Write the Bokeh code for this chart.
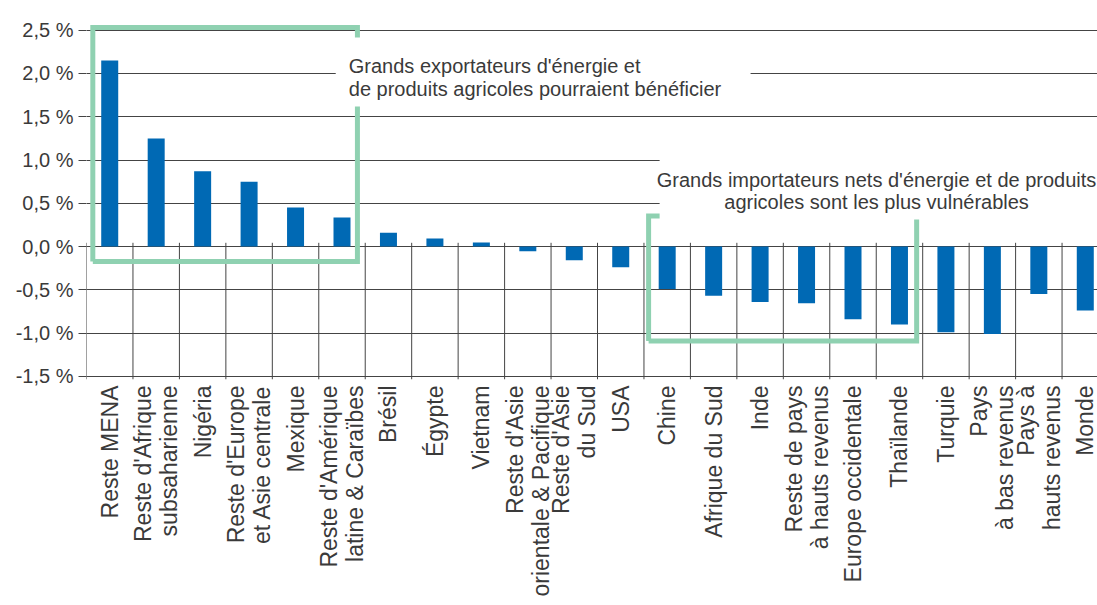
from bokeh.plotting import figure
from bokeh.models import FixedTicker, Range1d
from bokeh.core.properties import value
from bokeh.embed import file_html
from bokeh.resources import INLINE

categories = [
    "Reste MENA", "Reste d'Afrique\nsubsaharienne", "Nigéria",
    "Reste d'Europe\net Asie centrale", "Mexique",
    "Reste d'Amérique\nlatine & Caraïbes", "Brésil", "Égypte", "Vietnam",
    "Reste d'Asie\norientale & Pacifique", "Reste d'Asie\ndu Sud", "USA",
    "Chine", "Afrique du Sud", "Inde", "Reste de pays\nà hauts revenus",
    "Europe occidentale", "Thaïlande", "Turquie", "Pays\nà bas revenus",
    "Pays à\nhauts revenus", "Monde",
]
values = [2.15, 1.25, 0.87, 0.75, 0.45, 0.335, 0.16, 0.092, 0.046, -0.054,
          -0.16, -0.24, -0.49, -0.57, -0.64, -0.655, -0.84, -0.90, -0.99,
          -1.01, -0.55, -0.74]
y_ticks = [-1.5, -1.0, -0.5, 0.0, 0.5, 1.0, 1.5, 2.0, 2.5]
y_tick_labels = ["-1,5 %", "-1,0 %", "-0,5 %", "0,0 %", "0,5 %", "1,0 %",
                 "1,5 %", "2,0 %", "2,5 %"]
note_exporters = ["Grands exportateurs d'énergie et",
                  "de produits agricoles pourraient bénéficier"]
note_importers = ["Grands importateurs nets d'énergie et de produits",
                  "agricoles sont les plus vulnérables"]

FONT = "Liberation Sans"
TEXT_COLOR = "#3a3a3a"
GREEN = "#8fd1b1"
BLUE = "#0069b4"
LINE = "#444444"

n = len(categories)
xs = list(range(n))

p = figure(
    frame_width=1011, frame_height=360,
    x_range=Range1d(-0.5, 21.263), y_range=Range1d(-1.537, 2.624),
    output_backend="svg", toolbar_location=None,
    min_border_left=86, min_border_right=0, min_border_top=19,
    min_border_bottom=0,
)
p.outline_line_color = None
p.background_fill_color = "white"

# grid
p.xgrid.grid_line_color = None
p.ygrid.ticker = FixedTicker(ticks=y_ticks)
p.ygrid.grid_line_color = LINE
p.ygrid.grid_line_width = 1

# y axis
p.yaxis.ticker = FixedTicker(ticks=y_ticks)
p.yaxis.major_label_overrides = {t: lab for t, lab in zip(y_ticks, y_tick_labels)}
p.yaxis.axis_line_color = None
p.yaxis.major_tick_line_color = LINE
p.yaxis.major_tick_out = 8
p.yaxis.major_tick_in = 0
p.yaxis.minor_tick_line_color = None
p.yaxis.major_label_standoff = 5
p.yaxis.major_label_text_font = FONT
p.yaxis.major_label_text_font_size = "20px"
p.yaxis.major_label_text_color = TEXT_COLOR

# x axis
p.xaxis.ticker = FixedTicker(ticks=xs)
p.xaxis.major_label_overrides = {i: c for i, c in zip(xs, categories)}
p.xaxis.major_label_orientation = 3.14159265 / 2
p.xaxis.axis_line_color = None
p.xaxis.major_tick_line_color = None
p.xaxis.minor_tick_line_color = None
p.xaxis.major_label_standoff = 0
p.xaxis.major_label_text_font = FONT
p.xaxis.major_label_text_font_size = "23px"
p.xaxis.major_label_text_line_height = 1.0
p.xaxis.major_label_text_color = TEXT_COLOR

# vertical separators between categories
bounds = [i - 0.5 for i in range(n + 1)]
p.segment(x0=bounds, y0=[0.043] * len(bounds), x1=bounds,
          y1=[-1.537] * len(bounds), line_color=LINE, line_width=1)

# bars
p.vbar(x=xs, top=values, bottom=0, width=0.366, fill_color=BLUE,
       line_color=None)

# green brackets
g1 = dict(l=0 - 0.364, r=5 + 0.332, t=2.532, b=-0.173)
g2 = dict(l=12 - 0.40, r=17 + 0.37, t=0.352, b=-1.092)
for g in (g1, g2):
    p.line(x=[g["l"], g["l"], g["r"], g["r"], g["l"]],
           y=[g["b"], g["t"], g["t"], g["b"], g["b"]],
           line_color=GREEN, line_width=5, line_join="miter")

# white label backgrounds
p.quad(left=[4.865, 11.837], right=[13.795, 21.5], top=[2.416, 1.075],
       bottom=[1.618, 0.312], fill_color="white", line_color=None)

# notes
p.text(x=[5.146, 5.146], y=[2.092, 1.815], text=note_exporters,
       text_font=value(FONT), text_font_size="20px", text_color=TEXT_COLOR,
       text_align="left", text_baseline="alphabetic")
p.text(x=[16.507, 16.507], y=[0.769, 0.509], text=note_importers,
       text_font=value(FONT), text_font_size="20px", text_color=TEXT_COLOR,
       text_align="center", text_baseline="alphabetic")

open("out.html", "w").write(file_html(p, INLINE))
